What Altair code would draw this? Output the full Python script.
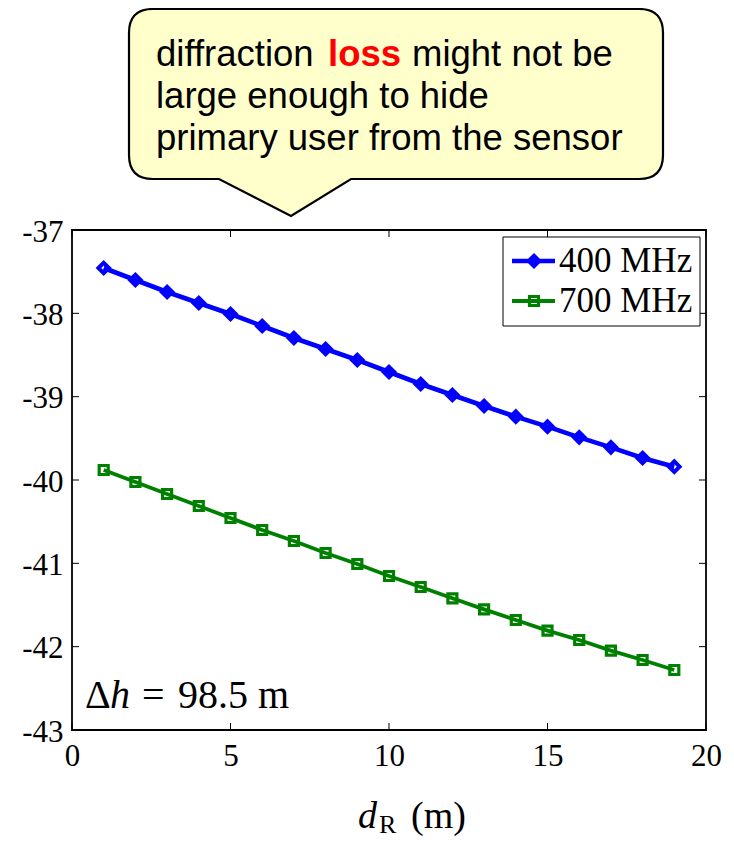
import altair as alt
import pandas as pd

# ---------------- data ----------------
d_R = list(range(1, 20))
loss_400 = [-37.456, -37.600, -37.744, -37.876, -38.008, -38.152, -38.296, -38.428,
            -38.560, -38.704, -38.848, -38.980, -39.112, -39.240, -39.360, -39.488,
            -39.608, -39.736, -39.840]
loss_700 = [-39.880, -40.024, -40.168, -40.312, -40.456, -40.600, -40.732, -40.876,
            -41.008, -41.152, -41.284, -41.420, -41.552, -41.680, -41.808, -41.920,
            -42.048, -42.160, -42.280]
series = ["400 MHz", "700 MHz"]
colors = ["#0000FF", "#008000"]
shapes = ["diamond", "square"]
x_ticks = [0, 5, 10, 15, 20]
y_ticks = [-43, -42, -41, -40, -39, -38, -37]

W, H = 634, 500
SERIF = "Liberation Serif"
SANS = "Liberation Sans"
LINE_W = [4.6, 3.8]
MARK_SIZE = [110, 81]
MARK_SW = [4, 3.2]

df = pd.DataFrame({
    "x": d_R * 2,
    "y": loss_400 + loss_700,
    "series": [series[0]] * len(d_R) + [series[1]] * len(d_R),
})

xs = alt.Scale(domain=[0, 20], nice=False, zero=False)
ys = alt.Scale(domain=[-43, -37], nice=False, zero=False)

x_axis = alt.Axis(values=x_ticks, title=None, grid=False, domain=False, ticks=False,
                  tickSize=0, labelFont=SERIF, labelFontSize=31, labelColor="black",
                  labelPadding=35, labelBaseline="alphabetic", labelFlush=False,
                  labelOverlap=False, labelExpr="'' + datum.value")
y_axis = alt.Axis(values=y_ticks, title=None, grid=False, domain=False, ticks=False,
                  tickSize=0, labelFont=SERIF, labelFontSize=31, labelColor="black",
                  labelPadding=9, labelFlush=False, labelOverlap=False, labelOffset=2,
                  labelExpr="'' + datum.value")


def X(field="x"):
    return alt.X(f"{field}:Q", scale=xs, axis=x_axis)


def Y(field="y"):
    return alt.Y(f"{field}:Q", scale=ys, axis=y_axis)


col = alt.Color("series:N", scale=alt.Scale(domain=series, range=colors), legend=None)

lines = alt.Chart(df).mark_line().encode(
    x=X(), y=Y(), color=col,
    strokeWidth=alt.StrokeWidth("series:N", scale=alt.Scale(domain=series, range=LINE_W), legend=None),
)
point_layers = []
for name, shp, sz, msw in zip(series, shapes, MARK_SIZE, MARK_SW):
    point_layers.append(
        alt.Chart(df).transform_filter(alt.datum.series == name)
        .mark_point(filled=False, opacity=1, strokeWidth=msw, shape=shp, size=sz)
        .encode(x=X(), y=Y(), color=col)
    )

# inward ticks on all four sides
tl = 7
ytick_df = pd.DataFrame({"y": y_ticks})
xtick_df = pd.DataFrame({"x": x_ticks})
tick_layers = [
    alt.Chart(ytick_df).mark_rule(color="black", strokeWidth=1).encode(
        y=Y(), x=alt.value(0), x2=alt.value(tl)),
    alt.Chart(ytick_df).mark_rule(color="black", strokeWidth=1).encode(
        y=Y(), x=alt.value(W - tl), x2=alt.value(W)),
    alt.Chart(xtick_df).mark_rule(color="black", strokeWidth=1).encode(
        x=X(), y=alt.value(H - tl), y2=alt.value(H)),
    alt.Chart(xtick_df).mark_rule(color="black", strokeWidth=1).encode(
        x=X(), y=alt.value(0), y2=alt.value(tl)),
]

one = alt.Data(values=[{"a": 1}])


def txt(text, x, y, size, font=SERIF, color="black", weight="normal", style="normal",
        align="left", baseline="alphabetic"):
    return alt.Chart(one).mark_text(text=text, font=font, fontSize=size, color=color,
                                    fontWeight=weight, fontStyle=style, align=align,
                                    baseline=baseline).encode(x=alt.value(x), y=alt.value(y))


# ---------------- callout bubble ----------------
L, R, T, B, r = 57, 591, -221, -51, 24
PL, PR, TX, TY = 147, 279, 219, -14
bubble_path = (
    f"M{L + r},{T} L{R - r},{T} Q{R},{T} {R},{T + r} L{R},{B - r} Q{R},{B} {R - r},{B} "
    f"L{PR},{B} L{TX},{TY} L{PL},{B} L{L + r},{B} Q{L},{B} {L},{B - r} L{L},{T + r} "
    f"Q{L},{T} {L + r},{T} Z"
)
bubble = alt.Chart(one).mark_point(
    shape=bubble_path, size=4, filled=True, fill="#FFFFCC", fillOpacity=1,
    stroke="black", strokeWidth=2.2, opacity=1, strokeJoin="miter",
).encode(x=alt.value(0), y=alt.value(0))

bfs = 36.5
bubble_text = [
    txt("diffraction", 84, -164, bfs, font=SANS),
    txt("loss", 256, -164, bfs, font=SANS, color="#FF0000", weight="bold"),
    txt("might not be", 340, -164, bfs, font=SANS),
    txt("large enough to hide", 84, -122, bfs, font=SANS),
    txt("primary user from the sensor", 84, -80, bfs, font=SANS),
]

# ---------------- legend (manual, MATLAB style) ----------------
legend_layers = [
    alt.Chart(one).mark_rect(fill="white", stroke="black", strokeWidth=1).encode(
        x=alt.value(431), x2=alt.value(628), y=alt.value(7), y2=alt.value(96)),
]
for i, (name, c, shp, sw, sz, msw) in enumerate(zip(series, colors, shapes, LINE_W, MARK_SIZE, MARK_SW)):
    ly = 31 + 40 * i
    legend_layers.append(alt.Chart(one).mark_rule(color=c, strokeWidth=sw).encode(
        x=alt.value(440), x2=alt.value(483), y=alt.value(ly)))
    legend_layers.append(alt.Chart(one).mark_point(shape=shp, size=sz, filled=False, color=c,
                                                   strokeWidth=msw, opacity=1).encode(
        x=alt.value(462), y=alt.value(ly)))
    legend_layers.append(txt(name, 487, ly + 11, 35))

# ---------------- annotations ----------------
afs = 40
annot = [
    txt("Δ", 13, 478, afs),
    txt("h", 38, 478, afs, style="italic"),
    txt("=", 70, 478, afs),
    txt("98.5 m", 106, 478, afs),
]
xtitle = [
    txt("d", 286, 598, 38, style="italic"),
    txt("R", 307, 603, 26),
    txt("(m)", 339, 598, 38),
]

chart = alt.layer(
    lines, *point_layers, *tick_layers, *legend_layers, *annot, *xtitle, bubble, *bubble_text
).properties(
    width=W, height=H,
    autosize=alt.AutoSizeParams(type="none"),
    padding={"left": 64, "top": 222, "right": 18, "bottom": 110},
    background="white",
).configure_view(stroke="black", strokeWidth=1.8)

chart.save("out.html", embed_options={"renderer": "svg", "actions": False})
